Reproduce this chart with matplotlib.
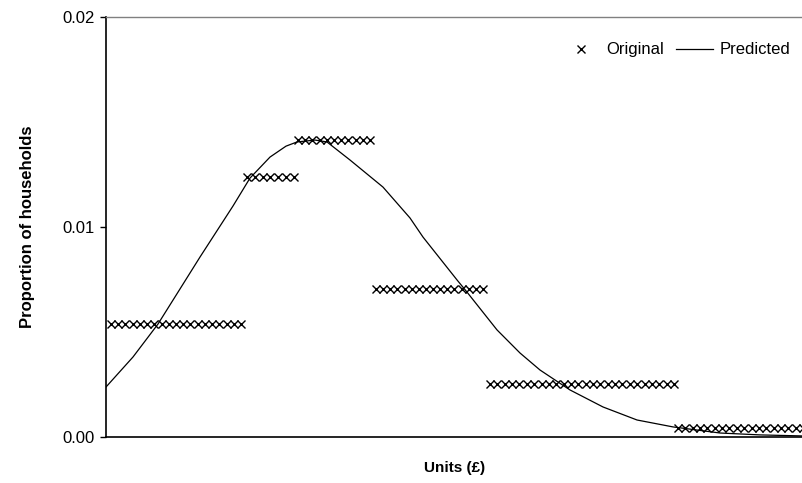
import matplotlib.pyplot as plt
import numpy as np

plt.rcParams['font.family'] = ['Liberation Sans', 'DejaVu Sans']

# bands of the original step data: first / last income, value, number of points
band_start = [5, 141, 192, 270, 384, 572]
band_end = [135, 188, 264, 377, 568, 697]
band_value = [0.00538, 0.01238, 0.01414, 0.00705, 0.00252, 0.00043]
band_count = [19, 7, 11, 16, 26, 18]

# predicted curve
pred_x = [0, 27, 52, 74, 94, 127, 144, 164, 180, 191, 209, 221, 244, 277, 304,
          317, 351, 361, 391, 414, 434, 464, 497, 531, 567, 614, 654, 697]
pred_y = [0.00238, 0.00381, 0.00538, 0.00705, 0.00857, 0.01100, 0.01233,
          0.01333, 0.01385, 0.01405, 0.01414, 0.01405, 0.01319, 0.01190, 0.01043,
          0.00952, 0.00748, 0.00690, 0.00510, 0.00400, 0.00319, 0.00224,
          0.00143, 0.00081, 0.00048, 0.00019, 0.00010, 0.00005]

orig_x = np.concatenate([np.linspace(a, b, n) for a, b, n in zip(band_start, band_end, band_count)])
orig_y = np.repeat(band_value, band_count)

fig = plt.figure(figsize=(8.03, 4.83), dpi=100)
ax = fig.add_axes([106 / 803, 1 - 437 / 483, 697 / 803, 420 / 483])

ax.plot(orig_x, orig_y, linestyle='none', marker='x', color='black',
        markersize=6.2, markeredgewidth=1.0, label='Original')
ax.plot(pred_x, pred_y, color='black', linewidth=0.9, label='Predicted')

ax.set_xlim(0, 697)
ax.set_ylim(0, 0.02)
ax.set_yticks([0, 0.01, 0.02])
ax.set_yticklabels(['0.00', '0.01', '0.02'], fontsize=12)
ax.set_xticks([])
ax.tick_params(axis='y', direction='out', length=4, width=1, pad=4)

ax.spines['right'].set_visible(False)
ax.spines['top'].set_color('#808080')
ax.spines['top'].set_linewidth(1)
ax.spines['left'].set_linewidth(1.2)
ax.spines['bottom'].set_linewidth(1.2)

ax.set_xlabel('Units (£)', fontsize=11, fontweight='bold', labelpad=17)
ax.set_ylabel('Proportion of households', fontsize=12, fontweight='bold', labelpad=20)

ax.legend(loc='upper right', ncol=2, frameon=False, fontsize=12,
          handlelength=2.2, columnspacing=0.7, handletextpad=0.45,
          bbox_to_anchor=(1.004, 0.975))

fig.savefig('out.png', dpi=100)
